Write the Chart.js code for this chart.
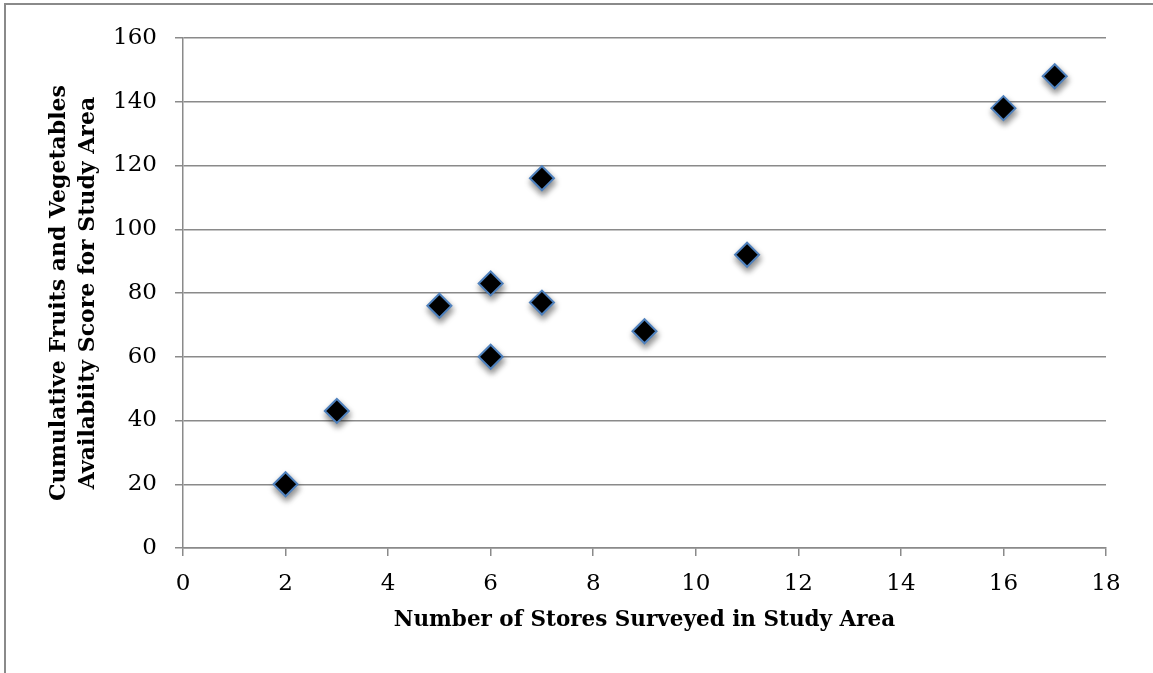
<!DOCTYPE html>
<html>
<head>
<meta charset="utf-8">
<script src="https://cdn.jsdelivr.net/npm/chart.js@4.4.1/dist/chart.umd.min.js"></script>
<style>
  html, body { margin: 0; padding: 0; background: #fff; }
  #wrap { width: 1153px; height: 673px; position: relative; }
</style>
</head>
<body>
<div id="wrap"><canvas id="chart"></canvas></div>
<script>
// stores surveyed vs. availability score
const storeCounts = [2, 3, 5, 6, 6, 7, 7, 9, 11, 16, 17];
const availScores = [20, 43, 76, 83, 60, 116, 77, 68, 92, 138, 148];

const xTitle = "Number of Stores Surveyed in Study Area";
const yTitle = ["Cumulative Fruits and Vegetables", "Availabiity Score for Study Area"];

const points = storeCounts.map((x, i) => ({ x: x, y: availScores[i] }));

const serif = "'DejaVu Serif', 'Liberation Serif', serif";

// outer frame like the spreadsheet chart box
const framePlugin = {
  id: "frame",
  beforeDraw(chart) {
    const ctx = chart.ctx;
    ctx.save();
    ctx.strokeStyle = "#8a8a8a";
    ctx.lineWidth = 2;
    ctx.beginPath();
    ctx.moveTo(5, 700);
    ctx.lineTo(5, 4);
    ctx.lineTo(1200, 4);
    ctx.stroke();
    ctx.restore();
  }
};

// soft drop shadow under the markers
const shadowPlugin = {
  id: "shadow",
  beforeDatasetsDraw(chart) {
    const ctx = chart.ctx;
    ctx.save();
    ctx.shadowColor = "rgba(0,0,0,0.45)";
    ctx.shadowBlur = 6;
    ctx.shadowOffsetX = 1;
    ctx.shadowOffsetY = 4;
  },
  afterDatasetsDraw(chart) {
    chart.ctx.restore();
  }
};

const ctx = document.getElementById("chart").getContext("2d");
new Chart(ctx, {
  type: "scatter",
  data: {
    datasets: [{
      data: points,
      pointStyle: "rectRot",
      pointRadius: 12,
      pointHoverRadius: 12,
      backgroundColor: "#000000",
      borderColor: "#4f81bd",
      borderWidth: 2
    }]
  },
  options: {
    responsive: true,
    maintainAspectRatio: false,
    animation: false,
    layout: { padding: { left: 10, right: 47, top: 38, bottom: 40 } },
    plugins: {
      legend: { display: false },
      tooltip: { enabled: false }
    },
    scales: {
      x: {
        type: "linear",
        min: 0,
        max: 18,
        ticks: {
          stepSize: 2,
          color: "#000",
          padding: 14,
          font: { family: serif, size: 23 }
        },
        grid: {
          display: true,
          drawOnChartArea: false,
          drawTicks: true,
          tickLength: 8,
          color: "#8a8a8a",
          lineWidth: 1.5
        },
        border: { color: "#8a8a8a", width: 1.5 },
        title: {
          display: true,
          text: xTitle,
          color: "#000",
          font: { family: serif, size: 21.5, weight: "bold" },
          padding: { top: 0, bottom: 0 }
        },
        afterFit(scale) { scale.height = 673 - 548 - 40; }
      },
      y: {
        min: 0,
        max: 160,
        ticks: {
          stepSize: 20,
          color: "#000",
          padding: 18,
          font: { family: serif, size: 23 }
        },
        grid: {
          color: "#8a8a8a",
          lineWidth: 1.5,
          tickLength: 8
        },
        border: { color: "#8a8a8a", width: 1.5 },
        title: {
          display: true,
          text: yTitle,
          color: "#000",
          font: { family: serif, size: 22, weight: "bold", lineHeight: 1.3 },
          padding: { top: 35, bottom: 0 }
        },
        afterFit(scale) { scale.width = 183 - 10; }
      }
    }
  },
  plugins: [framePlugin, shadowPlugin]
});
</script>
</body>
</html>
